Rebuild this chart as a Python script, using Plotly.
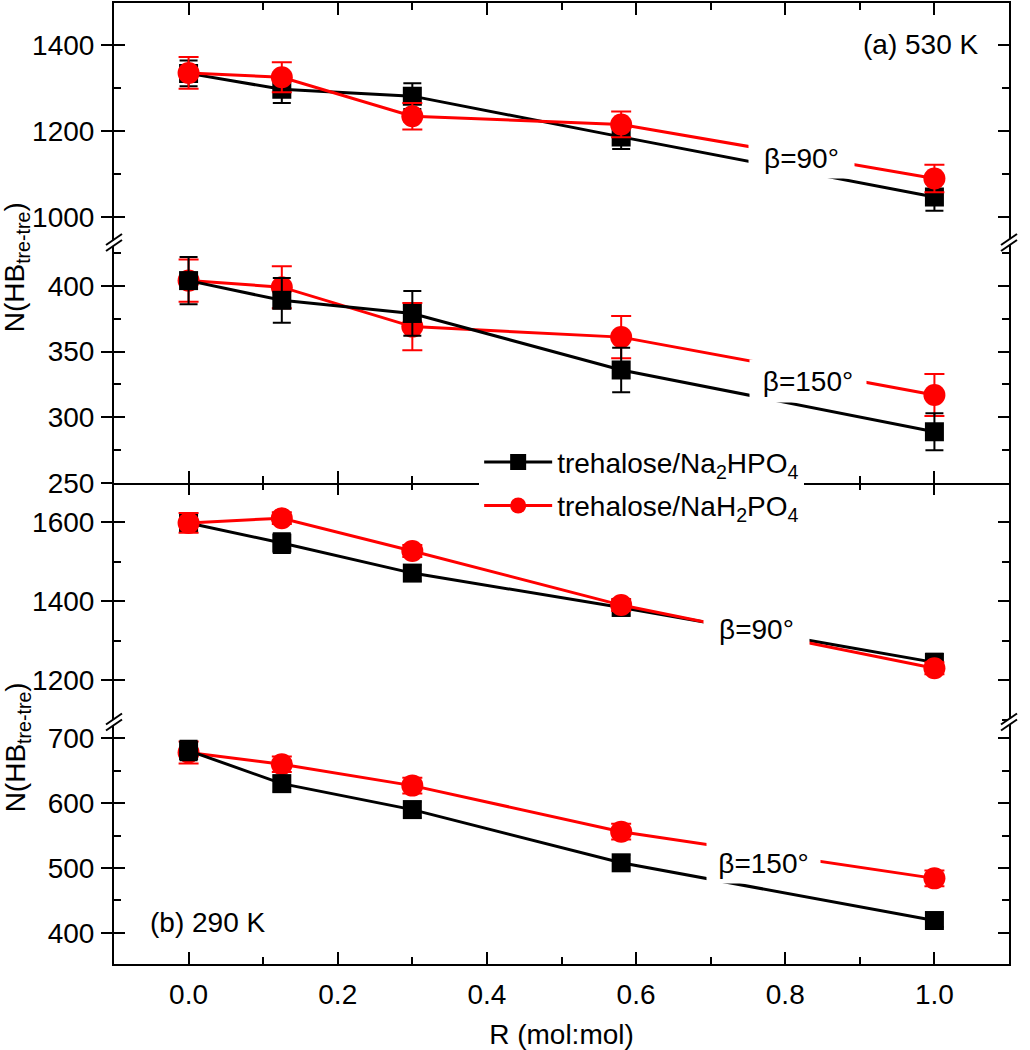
import plotly.graph_objects as go
from plotly.subplots import make_subplots

# ---------------- data ----------------
R = [0.0, 0.125, 0.3, 0.58, 1.0]

# (a) 530 K, beta = 90 deg
a90_na2hpo4 = [1334, 1297, 1281, 1186, 1046]
a90_na2hpo4_err = [30, 32, 30, 28, 32]
a90_nah2po4 = [1335, 1325, 1234, 1215, 1089]
a90_nah2po4_err = [37, 35, 31, 30, 32]

# (a) 530 K, beta = 150 deg
a150_na2hpo4 = [404, 389, 379, 336, 289]
a150_na2hpo4_err = [18, 17, 17, 17, 14]
a150_nah2po4 = [404, 399, 369, 361, 317]
a150_nah2po4_err = [16, 16, 18, 16, 16]

# (b) 290 K, beta = 90 deg
b90_na2hpo4 = [1598, 1547, 1471, 1384, 1245]
b90_na2hpo4_err = [20, 25, 20, 20, 22]
b90_nah2po4 = [1598, 1610, 1527, 1390, 1230]
b90_nah2po4_err = [25, 15, 15, 15, 15]

# (b) 290 K, beta = 150 deg
b150_na2hpo4 = [681, 630, 590, 508, 419]
b150_na2hpo4_err = [15, 12, 12, 12, 10]
b150_nah2po4 = [678, 660, 627, 556, 484]
b150_nah2po4_err = [17, 12, 12, 12, 12]

name_black = "trehalose/Na<sub>2</sub>HPO<sub>4</sub>"
name_red = "trehalose/NaH<sub>2</sub>PO<sub>4</sub>"

x_ticks = [0.0, 0.2, 0.4, 0.6, 0.8, 1.0]
x_ticklabels = ["0.0", "0.2", "0.4", "0.6", "0.8", "1.0"]

# ---------------- layout constants ----------------
FONT = "Liberation Sans, Arial, sans-serif"
BLACK = "#000000"
RED = "#ff0000"
FS = 28

# panel domains (paper units) and y ranges
dom = {1: [0.7508, 1.0], 2: [0.5005, 0.7508], 3: [0.2518, 0.5005], 4: [0.0, 0.2518]}
yr = {1: [940, 1498], 2: [250, 433], 3: [1094, 1699], 4: [352, 725]}
ydt = {1: 200, 2: 50, 3: 200, 4: 100}

fig = make_subplots(rows=4, cols=1, shared_xaxes=True, vertical_spacing=0)


def add_pair(row, yb, eb, yr_, er, red_on_top, legend):
    def black():
        fig.add_trace(go.Scatter(
            x=R, y=yb, mode="lines+markers", name=name_black,
            line=dict(color=BLACK, width=3),
            marker=dict(symbol="square", size=19, color=BLACK),
            error_y=dict(type="data", array=eb, color=BLACK, thickness=2, width=9),
            showlegend=legend, legendrank=1, legendgroup="g1", hoverinfo="x+y"), row=row, col=1)

    def red():
        fig.add_trace(go.Scatter(
            x=R, y=yr_, mode="lines+markers", name=name_red,
            line=dict(color=RED, width=3),
            marker=dict(symbol="circle", size=22, color=RED),
            error_y=dict(type="data", array=er, color=RED, thickness=2, width=10),
            showlegend=legend, legendrank=2, legendgroup="g2", hoverinfo="x+y"), row=row, col=1)

    if red_on_top:
        black(); red()
    else:
        red(); black()


add_pair(1, a90_na2hpo4, a90_na2hpo4_err, a90_nah2po4, a90_nah2po4_err, True, True)
add_pair(2, a150_na2hpo4, a150_na2hpo4_err, a150_nah2po4, a150_nah2po4_err, False, False)
add_pair(3, b90_na2hpo4, b90_na2hpo4_err, b90_nah2po4, b90_nah2po4_err, True, False)
add_pair(4, b150_na2hpo4, b150_na2hpo4_err, b150_nah2po4, b150_nah2po4_err, False, False)

# dummy traces so the overlay (outside-tick) axes are drawn
for i, xa in zip([5, 6, 7, 8], ["x", "x2", "x3", "x4"]):
    fig.add_trace(go.Scatter(x=[None], y=[None], xaxis=xa, yaxis="y%d" % i,
                             showlegend=False, hoverinfo="skip"))

xcommon = dict(range=[-0.1, 1.1], tickmode="array", tickvals=x_ticks, ticktext=x_ticklabels,
               showline=True, linecolor=BLACK, linewidth=2, showgrid=False, zeroline=False,
               ticks="inside", ticklen=12, tickwidth=2, tickcolor=BLACK,
               minor=dict(ticks="inside", ticklen=7, tickwidth=2, tickcolor=BLACK,
                          dtick=0.1, tick0=0, showgrid=False),
               tickfont=dict(family=FONT, size=FS, color=BLACK))

fig.update_layout(
    xaxis=dict(xcommon, side="top", showticklabels=False),
    xaxis2=dict(xcommon, side="bottom", showticklabels=False),
    xaxis3=dict(xcommon, side="top", showticklabels=False, showline=False),
    xaxis4=dict(xcommon, side="bottom", showticklabels=True,
                title=dict(text="R (mol:mol)", font=dict(family=FONT, size=FS, color=BLACK),
                           standoff=16),
                ticklabelstandoff=4),
)

for i in [1, 2, 3, 4]:
    key = "yaxis" if i == 1 else "yaxis%d" % i
    fig.layout[key].update(
        domain=dom[i], range=yr[i], tick0=0, dtick=ydt[i],
        showline=True, linecolor=BLACK, linewidth=2, mirror="ticks",
        showgrid=False, zeroline=False,
        ticks="inside", ticklen=11, tickwidth=2, tickcolor=BLACK,
        minor=dict(ticks="inside", ticklen=7, tickwidth=2, tickcolor=BLACK,
                   dtick=ydt[i] / 2, showgrid=False),
        tickfont=dict(family=FONT, size=FS, color=BLACK),
        ticklabelstandoff=12,
    )
    base = "y" if i == 1 else "y%d" % i
    anchor = "x" if i == 1 else "x%d" % i
    fig.layout["yaxis%d" % (i + 4)] = dict(
        overlaying=base, anchor=anchor, side="left", range=yr[i], tick0=0, dtick=ydt[i],
        showline=False, showgrid=False, zeroline=False, showticklabels=False,
        ticks="outside", ticklen=12, tickwidth=2, tickcolor=BLACK)

# ---------------- annotations ----------------
ann = []
# beta labels with white boxes that interrupt the lines
for xr_, yr_ref, xv, yv, txt, w, h in [
        ("x", "y", 0.822, 1137, "β=90°", 105, 40),
        ("x2", "y2", 0.83, 327.6, "β=150°", 116, 42),
        ("x3", "y3", 0.762, 1330, "β=90°", 105, 40),
        ("x4", "y4", 0.771, 508, "β=150°", 113, 40)]:
    ann.append(dict(xref=xr_, yref=yr_ref, x=xv, y=yv, text=txt, showarrow=False,
                    bgcolor="white", width=w, height=h, borderpad=0,
                    font=dict(family=FONT, size=FS, color=BLACK)))

ann.append(dict(xref="paper", yref="paper", x=0.9676, y=0.9563, xanchor="right", yanchor="middle",
                text="(a) 530 K", showarrow=False, font=dict(family=FONT, size=FS, color=BLACK)))
ann.append(dict(xref="paper", yref="paper", x=0.038, y=0.0437, xanchor="left", yanchor="middle",
                text="(b) 290 K", showarrow=False, font=dict(family=FONT, size=FS, color=BLACK)))

ytitle = "N(HB<sub>tre-tre</sub>)"
for yp in [0.7253, 0.2258]:
    ann.append(dict(xref="paper", yref="paper", x=-0.108, y=yp, xanchor="center", yanchor="middle",
                    text=ytitle, textangle=-90, showarrow=False,
                    font=dict(family=FONT, size=FS, color=BLACK)))

# ---------------- axis-break marks ----------------
shapes = []
for yb in [0.7508, 0.2518]:
    for xa in [0, 1]:
        base = dict(type="line", xref="paper", yref="paper", xsizemode="pixel", ysizemode="pixel",
                    xanchor=xa, yanchor=yb)
        shapes.append(dict(base, x0=-7, x1=7, y0=-4.5, y1=4.5,
                           line=dict(color="white", width=4)))
        shapes.append(dict(base, x0=-8, x1=8, y0=-8.5, y1=2.5, line=dict(color=BLACK, width=2)))
        shapes.append(dict(base, x0=-8, x1=8, y0=-2.5, y1=8.5, line=dict(color=BLACK, width=2)))

fig.update_layout(
    width=1030, height=1050,
    margin=dict(l=114, r=21, t=3, b=86),
    paper_bgcolor="white", plot_bgcolor="white",
    font=dict(family=FONT, size=FS, color=BLACK),
    annotations=ann, shapes=shapes,
    legend=dict(x=0.408, y=0.548, xanchor="left", yanchor="top",
                bgcolor="white", borderwidth=0, itemwidth=68,
                font=dict(family=FONT, size=28, color=BLACK), tracegroupgap=4),
)

fig.write_html("out.html", config={"displayModeBar": False},
               post_script="document.body.style.margin='0px';document.body.style.padding='0px';")
